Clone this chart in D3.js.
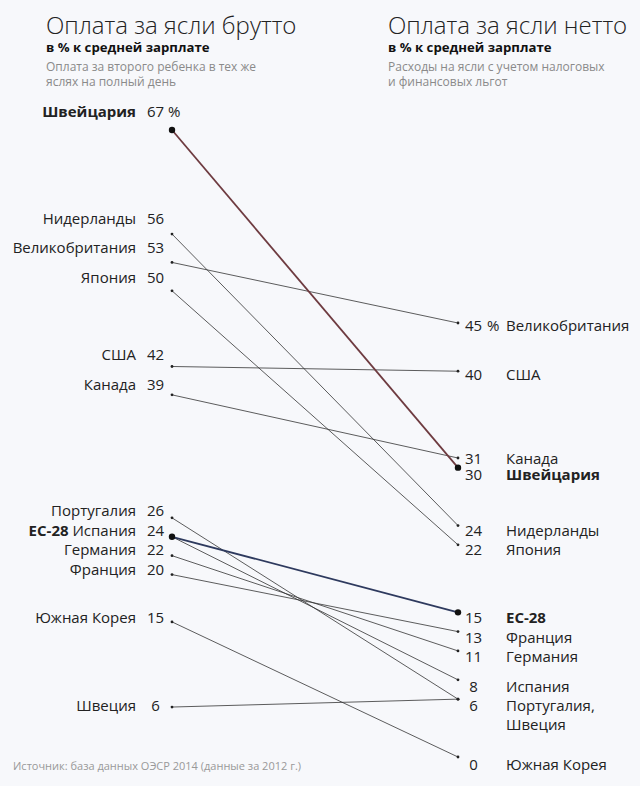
<!DOCTYPE html>
<html><head><meta charset="utf-8">
<script src="https://cdn.jsdelivr.net/npm/d3@7"></script>
<style>
html,body{margin:0;padding:0;background:#f7f8fb;}
svg{display:block;font-family:"Open Sans",sans-serif;}
</style></head>
<body>
<script>
// ---- data ----
const countries = ["Швейцария","Нидерланды","Великобритания","Япония","США","Канада","Португалия","Испания","Германия","Франция","Южная Корея","Швеция","ЕС-28"];
const gross = [67,56,53,50,42,39,26,24,22,20,15,6,24];
const net   = [30,24,45,22,40,31,6,8,11,13,0,6,15];
const highlight = ["Швейцария","ЕС-28"];
const highlightColors = ["#6e3b40","#2e3a5e"];
const leftTitle = "Оплата за ясли брутто";
const rightTitle = "Оплата за ясли нетто";
const subTitle = "в % к средней зарплате";
const leftNote = ["Оплата за второго ребенка в тех же","яслях на полный день"];
const rightNote = ["Расходы на ясли с учетом налоговых","и финансовых льгот"];
const source = "Источник: база данных ОЭСР 2014 (данные за 2012 г.)";

const W=640,H=786;
const data = countries.map((c,i)=>({name:c,g:gross[i],n:net[i],hi:highlight.indexOf(c)}));
const svg = d3.select("body").append("svg").attr("width",W).attr("height",H);
svg.append("rect").attr("width",W).attr("height",H).attr("fill","#f7f8fb");

// label scale (baselines) and dot scales for each side
const y = d3.scaleLinear().domain([0,67]).range([769.5,117]);
const yDL = d3.scaleLinear().domain([0,67]).range([763.8,130]);
const yDR = d3.scaleLinear().domain([0,45]).range([757,323]);
const xL=172, xR=458;

// titles
function header(x, title, note){
  svg.append("text").attr("x",x).attr("y",34).attr("font-size",24).attr("font-weight",300).attr("fill","#222").text(title);
  svg.append("text").attr("x",x).attr("y",52).attr("font-size",13.2).attr("font-weight",700).attr("fill","#111").text(subTitle);
  note.forEach((t,i)=>svg.append("text").attr("x",x).attr("y",71+i*14.5).attr("font-size",12).attr("fill","#8a8a8a").text(t));
}
header(46,leftTitle,leftNote);
header(388,rightTitle,rightNote);

// lines
const normal = data.filter(d=>d.hi<0), hi = data.filter(d=>d.hi>=0);
svg.append("g").selectAll("line").data(normal).join("line")
  .attr("x1",xL).attr("y1",d=>yDL(d.g)).attr("x2",xR).attr("y2",d=>yDR(d.n))
  .attr("stroke","#333").attr("stroke-width",0.8);
svg.append("g").selectAll("circle").data(normal.flatMap(d=>[[xL,yDL(d.g)],[xR,yDR(d.n)]])).join("circle")
  .attr("cx",d=>d[0]).attr("cy",d=>d[1]).attr("r",1.4).attr("fill","#222");
svg.append("g").selectAll("line").data(hi).join("line")
  .attr("x1",xL).attr("y1",d=>yDL(d.g)).attr("x2",xR).attr("y2",d=>yDR(d.n))
  .attr("stroke",d=>highlightColors[d.hi]).attr("stroke-width",1.8);
svg.append("g").selectAll("circle").data(hi.flatMap(d=>[[xL,yDL(d.g)],[xR,yDR(d.n)]])).join("circle")
  .attr("cx",d=>d[0]).attr("cy",d=>d[1]).attr("r",3.2).attr("fill","#111");

// groups
function groups(key){
  const m = d3.group(data,d=>d[key]);
  const arr = Array.from(m,([v,items])=>({v,items,pos:y(v)})).sort((a,b)=>b.v-a.v);
  for(let k=0;k<5;k++){
    for(let i=0;i<arr.length-1;i++){
      const gap = arr[i+1].pos-arr[i].pos;
      if(gap<16){const s=(16-gap)/2; arr[i].pos-=s; arr[i+1].pos+=s;}
    }
  }
  return arr;
}
const fs=15;
const gl = groups("g");
const maxG = d3.max(gross), maxN = d3.max(net);
gl.forEach(gr=>{
  svg.append("text").attr("x",155.5).attr("y",gr.pos).attr("text-anchor","middle").attr("font-size",fs).attr("fill","#222").text(gr.v);
  if(gr.v===maxG) svg.append("text").attr("x",168).attr("y",gr.pos).attr("font-size",fs).attr("fill","#222").text("%");
  const items = gr.items.slice().sort((a,b)=>(b.hi>=0)-(a.hi>=0));
  const t = svg.append("text").attr("x",136).attr("y",gr.pos).attr("text-anchor","end").attr("font-size",fs).attr("fill","#222");
  items.forEach((d,i)=>t.append("tspan").attr("font-weight",d.hi>=0?700:400).text((i>0?" ":"")+d.name));
});
const gr2 = groups("n");
gr2.forEach(gr=>{
  svg.append("text").attr("x",473.5).attr("y",gr.pos).attr("text-anchor","middle").attr("font-size",fs).attr("fill","#222").text(gr.v);
  if(gr.v===maxN) svg.append("text").attr("x",487).attr("y",gr.pos).attr("font-size",fs).attr("fill","#222").text("%");
  gr.items.forEach((d,i)=>{
    svg.append("text").attr("x",506).attr("y",gr.pos+i*18.6).attr("font-size",fs).attr("fill","#222")
      .attr("font-weight",d.hi>=0?700:400).text(d.name+(i<gr.items.length-1?",":""));
  });
});

svg.append("text").attr("x",13).attr("y",770).attr("font-size",11).attr("fill","#999").text(source);
</script>
</body></html>
